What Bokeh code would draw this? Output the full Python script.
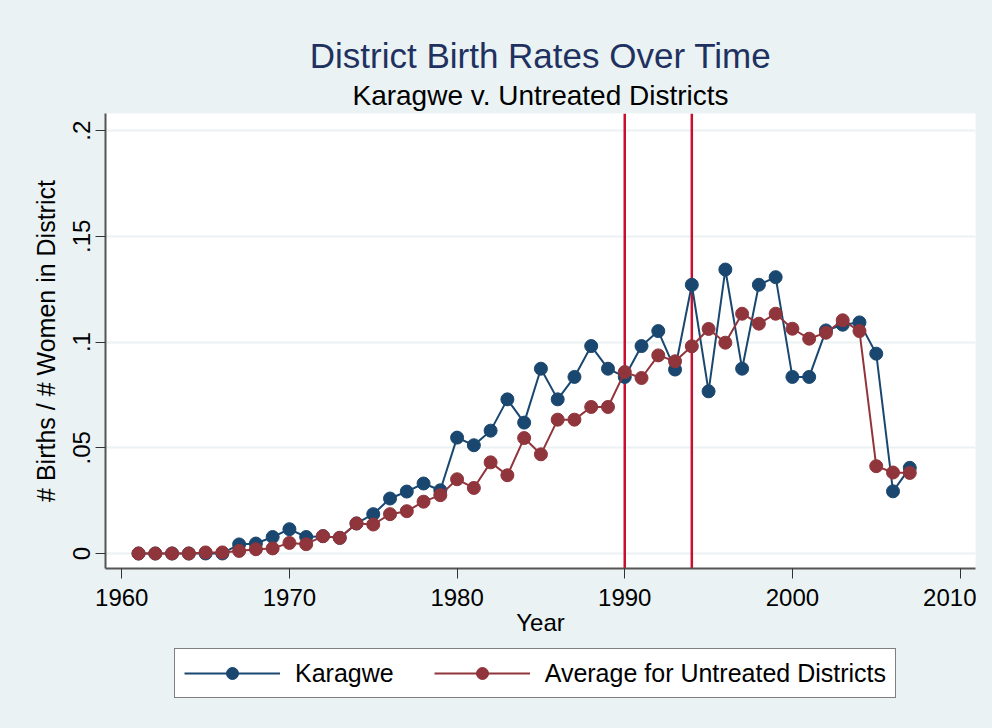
from bokeh.plotting import figure
from bokeh.layouts import column
from bokeh.models import (ColumnDataSource, Range1d, FixedTicker, CustomJSTickFormatter,
                          Span, Legend, LegendItem, Title)
from bokeh.embed import file_html
from bokeh.resources import INLINE

years = list(range(1961, 2008))
karagwe = [0, 0, 0, 0, 0, 0, 0.0043, 0.0047, 0.0078, 0.0115,
           0.0078, 0.0082, 0.0074, 0.0142, 0.0186, 0.026, 0.0293, 0.0331, 0.0299, 0.0548,
           0.0512, 0.0581, 0.0729, 0.0619, 0.0874, 0.0729, 0.0835, 0.0981, 0.0874, 0.0835,
           0.0981, 0.1052, 0.087, 0.1271, 0.0767, 0.1343, 0.0874, 0.1271, 0.1307, 0.0835,
           0.0835, 0.1055, 0.1082, 0.1093, 0.0945, 0.0294, 0.0405]
untreated = [0, 0, 0, 0, 0.0005, 0.0005, 0.0012, 0.002, 0.0024, 0.005,
             0.0044, 0.0082, 0.0074, 0.0142, 0.0137, 0.0186, 0.02, 0.0245, 0.0276, 0.0351,
             0.031, 0.0431, 0.037, 0.0546, 0.0469, 0.0633, 0.0633, 0.0693, 0.0693, 0.0858,
             0.083, 0.0937, 0.0909, 0.098, 0.1062, 0.0997, 0.1134, 0.1087, 0.1134, 0.1063,
             0.1016, 0.1044, 0.1103, 0.1052, 0.0413, 0.0383, 0.0381]
x_ticks = [1960, 1970, 1980, 1990, 2000, 2010]
y_ticks = [0, 0.05, 0.1, 0.15, 0.2]
event_years = [1990, 1994]
series_names = ["Karagwe", "Average for Untreated Districts"]
title_text = "District Birth Rates Over Time"
subtitle_text = "Karagwe v. Untreated Districts"

BG = "#eaf2f3"
BLUE = "#1a476f"
RED = "#90353b"
XLINE = "#c8102e"
FONT = "Liberation Sans"

src = ColumnDataSource(dict(year=years, k=karagwe, u=untreated))

p = figure(width=976, height=644, output_backend="svg", toolbar_location=None,
           x_range=Range1d(1959.03, 2010.92), y_range=Range1d(-0.0071, 0.2081),
           min_border_left=105, min_border_right=1, min_border_top=113, min_border_bottom=76)
p.title = None
p.border_fill_color = BG
p.background_fill_color = "white"
p.outline_line_color = None

sub = Title(text=subtitle_text, align="center", text_font=FONT, text_font_size="28px",
            text_font_style="normal", text_color="black", standoff=5)
main = Title(text=title_text, align="center", text_font=FONT, text_font_size="35px",
             text_font_style="normal", text_color="#1f3160", standoff=2)
p.add_layout(sub, "above")
p.add_layout(main, "above")

# axes
p.xaxis.ticker = FixedTicker(ticks=x_ticks)
p.yaxis.ticker = FixedTicker(ticks=y_ticks)
p.yaxis.formatter = CustomJSTickFormatter(code="""
    if (tick == 0) return "0";
    return tick.toFixed(2).replace(/0+$/, '').replace(/^0/, '');
""")
p.xaxis.axis_label = "Year"
p.yaxis.axis_label = "# Births / # Women in District"
for ax in (p.xaxis, p.yaxis):
    ax.axis_label_text_font = FONT
    ax.axis_label_text_font_style = "normal"
    ax.axis_label_text_color = "black"
    ax.major_label_text_font = FONT
    ax.major_label_text_color = "black"
    ax.major_label_text_font_size = "24px"
    ax.axis_line_color = "#555555"
    ax.axis_line_width = 2
    ax.major_tick_line_color = "#333333"
    ax.major_tick_line_width = 1
    ax.major_tick_out = 10
    ax.major_tick_in = 0
    ax.minor_tick_line_color = None
p.xaxis.axis_label_text_font_size = "24px"
p.yaxis.axis_label_text_font_size = "25px"
p.xaxis.major_label_standoff = 10
p.xaxis.axis_label_standoff = 0
p.yaxis.major_label_orientation = "vertical"
p.yaxis.major_label_standoff = 5
p.yaxis.axis_label_standoff = 11

p.xgrid.grid_line_color = None
p.ygrid.grid_line_color = BG
p.ygrid.grid_line_width = 2

for yr in event_years:
    p.add_layout(Span(location=yr, dimension="height", line_color=XLINE,
                      line_width=2.5, level="underlay"))

p.line("year", "k", source=src, line_color=BLUE, line_width=2)
p.scatter("year", "k", source=src, size=13, fill_color=BLUE, line_color=BLUE)
p.line("year", "u", source=src, line_color=RED, line_width=2)
p.scatter("year", "u", source=src, size=13, fill_color=RED, line_color=RED)

# legend panel below the chart (its frame is aligned with the chart's frame)
lg = figure(width=976, height=68, output_backend="svg", toolbar_location=None,
            x_range=Range1d(0, 1), y_range=Range1d(0, 1),
            x_axis_location=None, y_axis_location=None,
            min_border=0, min_border_left=0, min_border_right=0,
            min_border_top=0, min_border_bottom=0)
lg.grid.visible = False
lg.outline_line_color = None
lg.background_fill_color = BG
lg.border_fill_color = BG
offscreen = ColumnDataSource(dict(x=[0.5, 0.6], y=[-5, -5]))
rk_l = lg.line("x", "y", source=offscreen, line_color=BLUE, line_width=2)
rk_s = lg.scatter("x", "y", source=offscreen, size=13, fill_color=BLUE, line_color=BLUE)
ru_l = lg.line("x", "y", source=offscreen, line_color=RED, line_width=2)
ru_s = lg.scatter("x", "y", source=offscreen, size=13, fill_color=RED, line_color=RED)

legend = Legend(items=[LegendItem(label=series_names[0], renderers=[rk_l, rk_s]),
                       LegendItem(label=series_names[1], renderers=[ru_l, ru_s])],
                location=(69, 14), orientation="horizontal",
                glyph_width=96, glyph_height=30, label_height=30,
                label_standoff=15, spacing=40, padding=9, margin=0,
                label_text_font=FONT, label_text_font_size="25px", label_text_color="black",
                border_line_color="black", border_line_width=1,
                background_fill_color="white", background_fill_alpha=1)
lg.add_layout(legend, "center")

layout = column(p, lg, spacing=0)
html = file_html(layout, INLINE)
html = html.replace("<head>", "<head><style>html,body{background:#eaf2f3;}</style>", 1)
open("out.html", "w").write(html)
